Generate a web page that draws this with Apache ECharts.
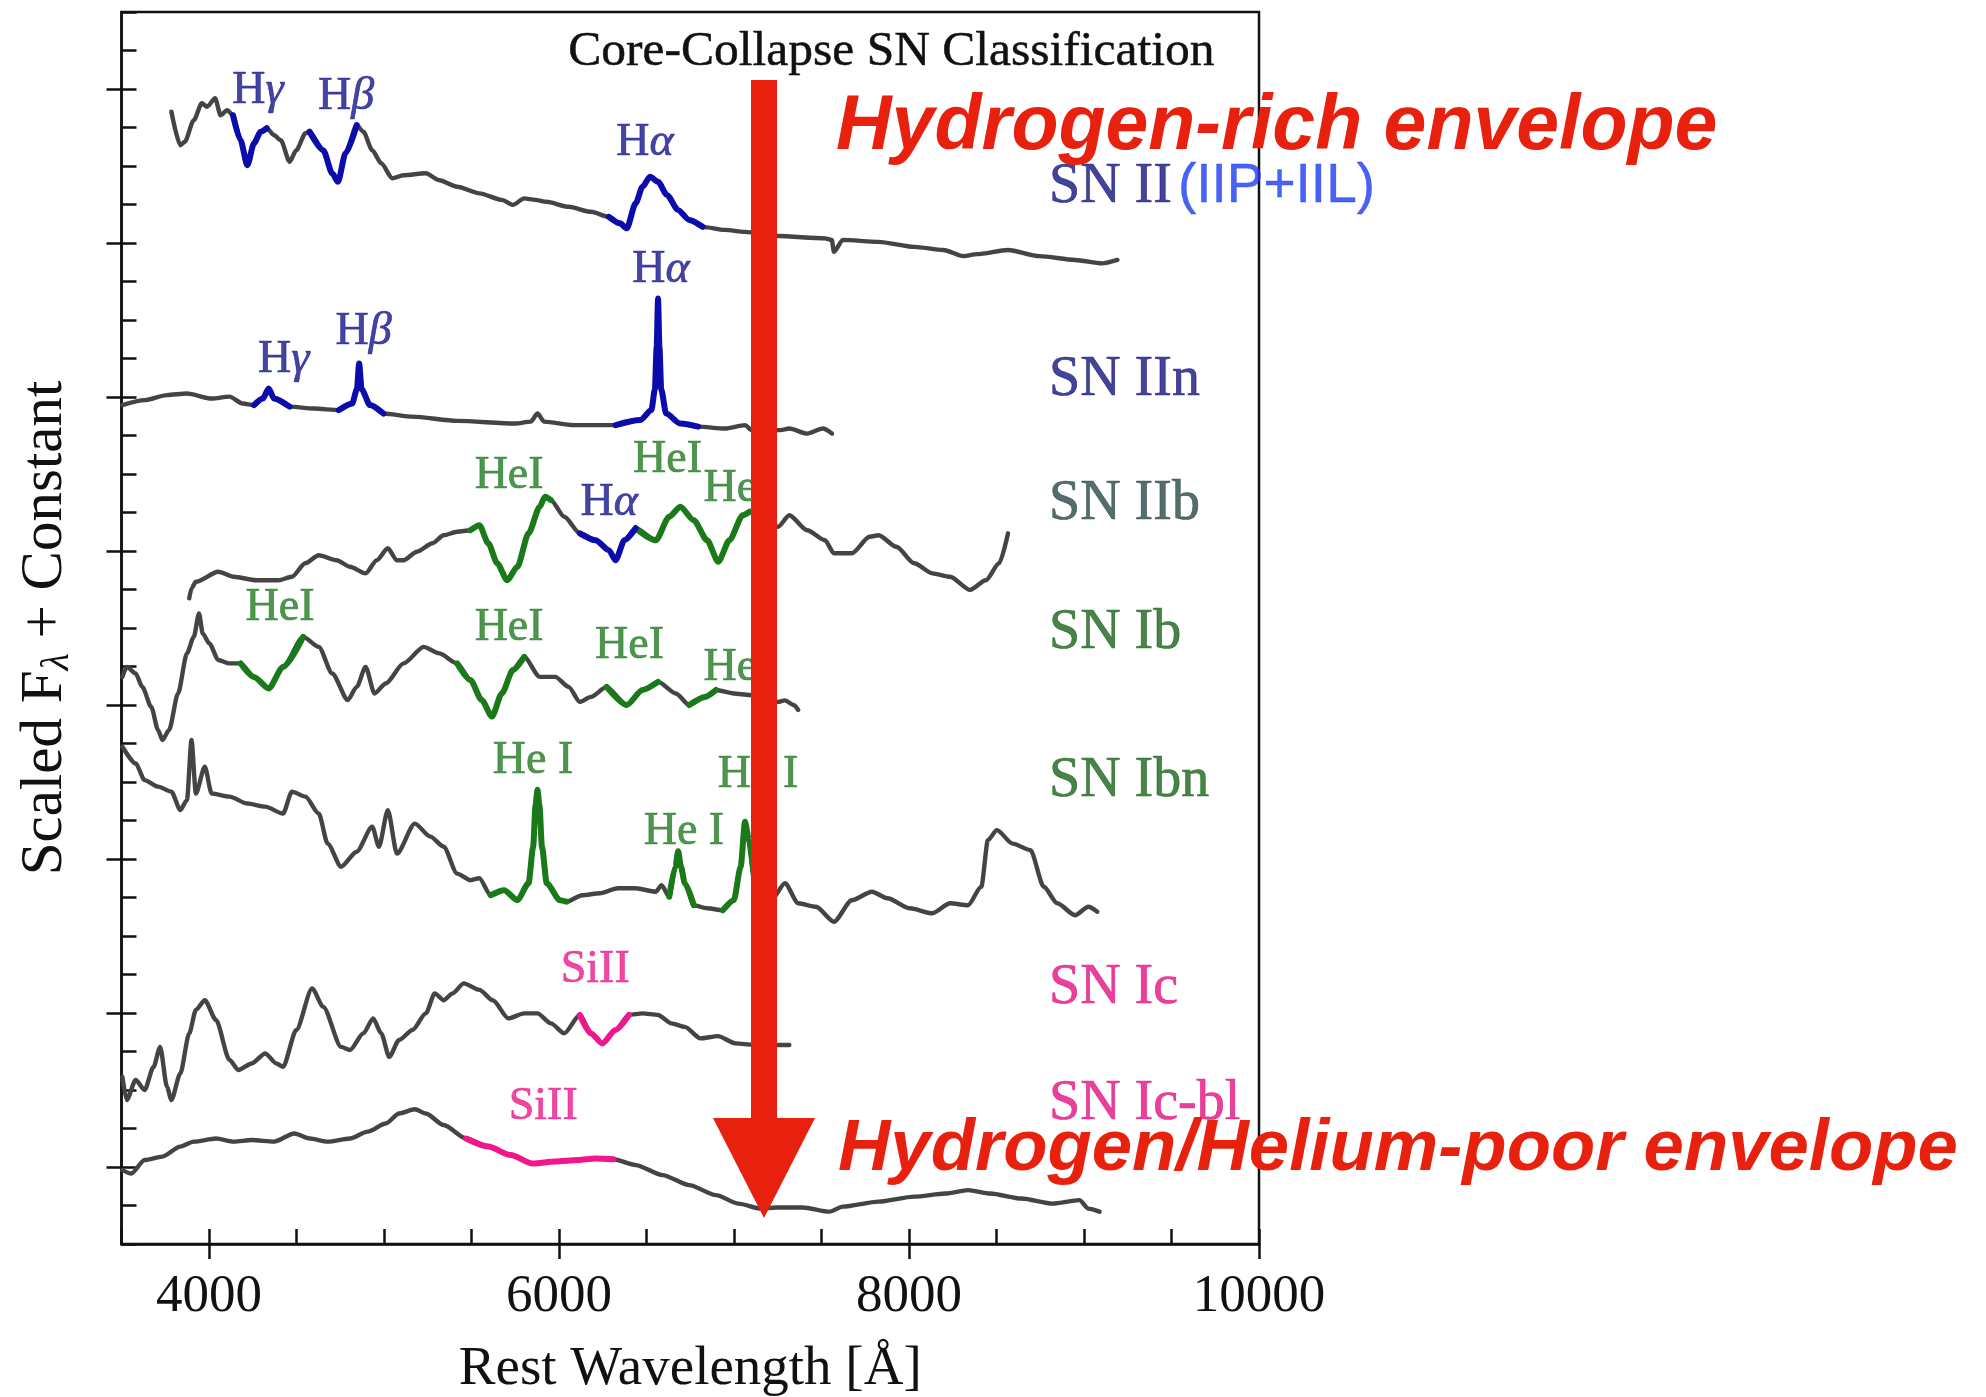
<!DOCTYPE html>
<html>
<head>
<meta charset="utf-8">
<script src="https://cdn.jsdelivr.net/npm/echarts@6/dist/echarts.min.js"></script>
<style>html,body{margin:0;padding:0;background:#fff;}#c{width:1986px;height:1397px;}</style>
</head>
<body>
<div id="c"></div>
<script>
// ---------------- data ----------------
const titleText = 'Core-Collapse SN Classification';
const xMajorTicks = [4000, 6000, 8000, 10000];
const yMajorTicks = [2, 6, 10, 14, 18, 22, 26, 30];

const snII = [[3785,29.41],[3836,28.54],[3862,28.63],[3913,29.19],[3959,29.63],[3989,29.54],[4035,29.76],[4066,29.32],[4104,29.45],[4137,29.32],[4180,28.67],[4219,28.02],[4257,28.59],[4295,28.89],[4330,28.98],[4372,28.8],[4410,28.67],[4461,28.11],[4499,28.41],[4551,28.85],[4575,28.89],[4653,28.41],[4704,27.81],[4737,27.59],[4780,28.33],[4844,29.06],[4882,28.89],[4933,28.41],[4984,28.07],[5048,27.68],[5112,27.76],[5239,27.81],[5316,27.63],[5418,27.46],[5545,27.29],[5673,27.12],[5737,26.99],[5801,27.16],[5864,27.12],[5928,27.07],[6055,26.94],[6183,26.81],[6285,26.68],[6349,26.51],[6387,26.38],[6438,27.03],[6477,27.46],[6520,27.72],[6566,27.59],[6617,27.25],[6680,26.86],[6744,26.6],[6821,26.42],[6948,26.34],[7061,26.29],[7252,26.18],[7520,26.12],[7559,26.08],[7571,25.77],[7622,26.08],[7826,26.03],[8030,25.9],[8196,25.82],[8311,25.66],[8388,25.71],[8566,25.82],[8745,25.66],[8949,25.56],[9102,25.47],[9191,25.56]];
const snIIHi = [[4137,4330],[4575,4844],[6285,6821]];

const snIIn = [[3505,21.79],[3632,21.92],[3760,22.05],[3874,22.09],[4015,21.96],[4117,22.01],[4193,21.83],[4257,21.79],[4308,21.96],[4341,22.22],[4372,21.96],[4461,21.75],[4601,21.7],[4742,21.66],[4818,21.83],[4845,22.2],[4858,22.87],[4872,22.2],[4920,21.79],[4997,21.57],[5163,21.49],[5418,21.38],[5749,21.31],[5839,21.36],[5877,21.57],[5915,21.36],[6081,21.27],[6324,21.27],[6464,21.4],[6528,21.66],[6548,22.2],[6558,23.3],[6566,24.56],[6574,23.3],[6584,22.2],[6612,21.57],[6693,21.31],[6795,21.23],[6948,21.18],[7063,21.27],[7101,21.14],[7265,21.14],[7316,21.18],[7418,21.05],[7508,21.18],[7560,21.05]];
const snIInHi = [[4257,4461],[4742,4997],[6324,6795]];

const snIIb = [[3887,16.77],[3900,17.03],[3925,17.2],[4053,17.46],[4142,17.33],[4270,17.24],[4397,17.24],[4474,17.33],[4550,17.68],[4627,17.89],[4729,17.76],[4806,17.59],[4895,17.42],[4959,17.76],[5022,18.07],[5073,17.76],[5112,17.76],[5188,17.98],[5277,18.2],[5341,18.41],[5418,18.5],[5494,18.54],[5545,18.67],[5596,18.2],[5647,17.68],[5704,17.24],[5762,17.59],[5826,18.46],[5890,19.15],[5920,19.41],[5954,19.32],[6030,18.89],[6119,18.46],[6209,18.28],[6285,18.02],[6323,17.76],[6374,18.28],[6438,18.59],[6553,18.28],[6630,18.89],[6693,19.15],[6770,18.8],[6846,18.28],[6910,17.72],[6974,18.28],[7050,18.93],[7089,19.02],[7252,18.63],[7316,18.93],[7418,18.54],[7520,18.28],[7571,17.94],[7673,17.94],[7775,18.37],[7826,18.41],[7928,18.11],[8030,17.68],[8133,17.42],[8235,17.33],[8349,16.99],[8439,17.24],[8515,17.68],[8566,18.46]];
const snIIbHeHi = [[5494,5954],[6438,7089]];
const snIIbHHi = [[6119,6438]];

const snIb = [[3505,14.73],[3530,14.99],[3581,14.82],[3619,14.47],[3670,13.95],[3709,13.35],[3734,13.09],[3772,13.35],[3823,14.3],[3874,15.34],[3913,15.77],[3943,16.38],[3964,15.86],[4002,15.6],[4053,15.17],[4117,15.08],[4181,15.08],[4257,14.73],[4341,14.43],[4423,14.99],[4538,15.77],[4627,15.51],[4704,14.82],[4793,14.13],[4844,14.47],[4895,14.99],[4946,14.3],[5010,14.56],[5112,15.08],[5227,15.51],[5316,15.34],[5418,15.08],[5494,14.65],[5558,14.13],[5617,13.7],[5673,14.3],[5737,14.91],[5801,15.25],[5890,14.73],[5979,14.73],[6055,14.47],[6119,14.08],[6183,14.21],[6272,14.47],[6387,14.0],[6477,14.39],[6566,14.6],[6668,14.3],[6744,14.0],[6834,14.21],[6897,14.39],[6999,14.3],[7089,14.26],[7252,14.08],[7291,14.12],[7342,14.0],[7367,13.87]];
const snIbHi = [[4181,4538],[5418,5801],[6272,6566],[6744,6897]];

const snIbn = [[3505,12.92],[3581,12.48],[3632,12.05],[3709,11.88],[3785,11.75],[3836,11.27],[3874,11.53],[3900,13.09],[3925,11.7],[3976,12.4],[4015,11.7],[4117,11.62],[4219,11.44],[4321,11.36],[4423,11.18],[4474,11.75],[4551,11.62],[4627,11.18],[4678,10.4],[4755,9.8],[4844,10.19],[4933,10.84],[4971,10.32],[5022,11.27],[5074,10.14],[5176,10.92],[5265,10.58],[5341,10.32],[5418,9.62],[5494,9.45],[5545,9.5],[5609,9.06],[5686,9.19],[5762,8.93],[5826,9.37],[5852,10.3],[5866,11.4],[5877,11.8],[5888,11.4],[5903,10.3],[5930,9.37],[6005,8.93],[6043,8.89],[6132,9.06],[6234,9.11],[6336,9.24],[6438,9.24],[6553,9.15],[6586,9.32],[6630,9.02],[6665,9.8],[6681,10.2],[6697,9.8],[6719,9.37],[6770,8.8],[6846,8.72],[6936,8.67],[6999,8.93],[7038,9.8],[7063,10.97],[7085,10.49],[7112,9.6],[7214,8.93],[7291,9.37],[7367,8.85],[7469,8.76],[7571,8.37],[7673,8.93],[7788,9.15],[7877,8.98],[8005,8.72],[8133,8.59],[8235,8.85],[8337,8.8],[8413,9.28],[8451,10.49],[8502,10.75],[8592,10.4],[8694,10.23],[8770,9.28],[8847,8.85],[8949,8.54],[9025,8.76],[9076,8.63]];
const snIbnHi = [[5609,6043],[6630,6770],[6936,7112]];

const snIc = [[3505,4.34],[3530,3.74],[3581,4.26],[3632,4.0],[3683,4.6],[3721,5.12],[3760,4.08],[3785,3.74],[3836,4.43],[3887,5.47],[3925,6.08],[3976,6.33],[4040,5.82],[4117,4.78],[4168,4.52],[4244,4.69],[4321,4.95],[4385,4.69],[4423,4.6],[4499,5.56],[4589,6.64],[4653,6.16],[4755,5.12],[4806,5.04],[4882,5.47],[4938,5.86],[4984,5.47],[5030,4.86],[5086,5.3],[5163,5.56],[5239,5.99],[5290,6.51],[5341,6.33],[5392,6.51],[5456,6.77],[5545,6.6],[5622,6.33],[5711,5.86],[5801,5.99],[5877,5.99],[5954,5.73],[6030,5.47],[6119,5.95],[6183,5.47],[6247,5.21],[6323,5.56],[6400,5.95],[6477,5.99],[6566,5.95],[6642,5.73],[6719,5.64],[6808,5.34],[6908,5.4],[7010,5.21],[7112,5.17],[7316,5.17]];
const snIcHi = [[6119,6400]];

const snIcbl = [[3505,1.92],[3556,1.83],[3632,2.18],[3734,2.27],[3836,2.53],[3913,2.66],[4040,2.74],[4142,2.66],[4244,2.7],[4372,2.66],[4487,2.87],[4576,2.74],[4678,2.66],[4806,2.74],[4907,2.92],[5010,3.13],[5086,3.39],[5176,3.5],[5239,3.39],[5341,3.09],[5469,2.74],[5596,2.53],[5724,2.31],[5851,2.09],[5979,2.14],[6107,2.18],[6209,2.22],[6311,2.2],[6438,2.05],[6591,1.79],[6744,1.53],[6897,1.27],[7025,1.05],[7153,0.92],[7240,0.95],[7393,0.95],[7546,0.84],[7622,0.97],[7826,1.1],[8030,1.23],[8209,1.31],[8337,1.4],[8464,1.31],[8643,1.18],[8821,1.05],[8974,1.14],[9025,0.92],[9089,0.84]];
const snIcblHi = [[5469,6311]];

// line identification labels: [wavelength, offset value, text]
const hLabels = [[4280,29.95,'γ'],[4783,29.8,'β'],[6491,28.6,'α'],[6583,25.3,'α'],[4883,23.7,'β'],[4427,22.97,'γ'],[6287,19.25,'α']];
const heLabels = [[5715,19.95,'HeI'],[6620,20.36,'HeI'],[7023,19.6,'HeI'],[4406,16.52,'HeI'],[5715,16.0,'HeI'],[6403,15.53,'HeI'],[7023,14.97,'HeI'],[5852,12.55,'He I'],[6714,10.7,'He I'],[7137,12.18,'He I']];
const siLabels = [[6207,7.12,'SiII'],[5910,3.56,'SiII']];

// type labels: [name, wavelength, value]
const typeLabels = [['SN II',8800,27.45],['SN IIn',8800,22.44],['SN IIb',8800,19.22],['SN Ib',8800,15.87],['SN Ibn',8800,12.02],['SN Ic',8800,6.65],['SN Ic-bl',8800,3.62]];
const subTypeNote = '(IIP+IIL)';
const topNote = 'Hydrogen-rich envelope';
const bottomNote = 'Hydrogen/Helium-poor envelope';

// ---------------- styles ----------------
const SERIF = '"Liberation Serif", "DejaVu Serif", serif';
const SANS = '"Liberation Sans", Arial, sans-serif';
const GRAY = '#444444';
const BLUE = '#0c0cac';
const GREEN = '#1a7a1a';
const PINK = '#f0168c';
const RED = '#e8200e';
const TXT_BLUE = '#15158c';
const TXT_GREEN = '#237a23';
const TXT_PINK = '#ea1a8a';
const typeColors = {'SN II':'#14147e','SN IIn':'#14147e','SN IIb':'#2c4848','SN Ib':'#1b641b','SN Ibn':'#1b641b','SN Ic':'#e3127f','SN Ic-bl':'#e3127f'};

function sub(data, lo, hi){ return data.filter(p => p[0] >= lo && p[0] <= hi); }
function line(data, color, width, z){
  return {type:'line', data:data, showSymbol:false, symbol:'none', smooth:0.25, smoothMonotone:'x',
    lineStyle:{color:color, width:width, join:'round', cap:'round'}, z:z, silent:true, animation:false};
}
const series = [];
const spectra = [
  [snII, [[snIIHi, BLUE]]],
  [snIIn, [[snIInHi, BLUE]]],
  [snIIb, [[snIIbHeHi, GREEN],[snIIbHHi, BLUE]]],
  [snIb, [[snIbHi, GREEN]]],
  [snIbn, [[snIbnHi, GREEN]]],
  [snIc, [[snIcHi, PINK]]],
  [snIcbl, [[snIcblHi, PINK]]]
];
spectra.forEach(([d, his]) => {
  series.push(line(d, GRAY, 4.4, 2));
  his.forEach(([ranges, col]) => ranges.forEach(r => series.push(line(sub(d, r[0], r[1]), col, 6, 3))));
});

function txt(fs, color, family, extra){
  return Object.assign({fontFamily:family || SERIF, fontSize:fs, color:color, textBorderColor:color, textBorderWidth:0.7}, extra || {});
}
function labelSeries(items, color, fmt, fs){
  return {type:'scatter', symbolSize:0, clip:false, silent:true, z:5, animation:false,
    data: items.map(it => ({value:[it[0], it[1]], name:it[2]})),
    label:Object.assign({show:true, position:'inside', formatter: fmt,
      rich:{g:txt(fs, color, SERIF, {fontStyle:'italic'}), n:txt(fs, color)}}, txt(fs, color))
  };
}
series.push(labelSeries(hLabels, TXT_BLUE, p => '{n|H}{g|' + p.name + '}', 46));
series.push(labelSeries(heLabels, TXT_GREEN, p => p.name, 46));
series.push(labelSeries(siLabels, TXT_PINK, p => p.name, 46));

series.push({type:'scatter', symbolSize:0, clip:false, silent:true, z:6, animation:false,
  data: typeLabels.map(t => ({value:[t[1], t[2]], name:t[0],
    label:{rich:{c:txt(56, typeColors[t[0]])}}})),
  label:{show:true, position:'right', distance:0, fontFamily:SERIF, fontSize:56,
    formatter: p => p.name === 'SN II' ? '{a|SN II}{b|' + subTypeNote + '}' : '{c|' + p.name + '}',
    rich:{a:txt(56, typeColors['SN II']),
          b:txt(55, '#1b3bf2', SANS, {padding:[0,0,0,6], textBorderWidth:0.4}),
          c:txt(56, '#333')}
  },
  itemStyle:{color:'transparent'}
});

const axisLineStyle = {color:'#111', width:2.5};
const option = {
  backgroundColor:'#ffffff',
  animation:false,
  title:{text:titleText, right:766, top:22, textStyle:{fontFamily:SERIF, fontSize:49.5, fontWeight:'normal', color:'#111', textBorderColor:'#111', textBorderWidth:0.5}},
  grid:{left:121.5, right:727, top:12, bottom:153, show:true, borderColor:'#111', borderWidth:2.5, backgroundColor:'transparent',
        containLabel:false, outerBoundsMode:'none'},
  xAxis:[
    {type:'value', min:3500, max:10000, position:'bottom',
     axisLine:{show:true, lineStyle:axisLineStyle},
     axisTick:{show:true, inside:false, length:15, customValues:xMajorTicks, lineStyle:axisLineStyle},
     axisLabel:{show:true, customValues:xMajorTicks, margin:27, fontFamily:SERIF, fontSize:53, color:'#111',
       formatter: v => String(v)},
     splitLine:{show:false},
     name:'Rest Wavelength [Å]', nameLocation:'middle', nameGap:98,
     nameTextStyle:{fontFamily:SERIF, fontSize:55, color:'#111'}},
    {type:'value', min:3500, max:10000, interval:500, position:'bottom',
     axisLine:{show:false}, axisTick:{show:true, inside:true, length:15, lineStyle:axisLineStyle},
     axisLabel:{show:false}, splitLine:{show:false}}
  ],
  yAxis:[
    {type:'value', min:0, max:32, interval:1, position:'left',
     axisLine:{show:true, lineStyle:axisLineStyle},
     axisTick:{show:true, inside:true, length:15, lineStyle:axisLineStyle},
     axisLabel:{show:false}, splitLine:{show:false},
     name:'Scaled F{s|λ} + Constant', nameLocation:'middle', nameRotate:90, nameGap:44,
     nameTextStyle:{fontFamily:SERIF, fontSize:59, color:'#111',
       rich:{s:{fontFamily:SERIF, fontSize:40, fontStyle:'italic', color:'#111', padding:[24,0,0,0]}}}},
    {type:'value', min:0, max:32, position:'left',
     axisLine:{show:false},
     axisTick:{show:true, inside:false, length:15, customValues:yMajorTicks, lineStyle:axisLineStyle},
     axisLabel:{show:false}, splitLine:{show:false}}
  ],
  series: series,
  graphic:[
    {type:'rect', z:100, shape:{x:751, y:80, width:26, height:1040}, style:{fill:RED}},
    {type:'polygon', z:100, shape:{points:[[713,1118],[815,1118],[764,1218]]}, style:{fill:RED}},
    {type:'text', z:101, style:{x:836, y:128, text:topNote, font:'italic bold 77px ' + SANS, fill:RED, textVerticalAlign:'middle'}},
    {type:'text', z:101, style:{x:838, y:1150, text:bottomNote, font:'italic bold 72.5px ' + SANS, fill:RED, textVerticalAlign:'middle'}}
  ]
};
const chart = echarts.init(document.getElementById('c'), null, {renderer:'canvas'});
chart.setOption(option);
</script>
</body>
</html>
